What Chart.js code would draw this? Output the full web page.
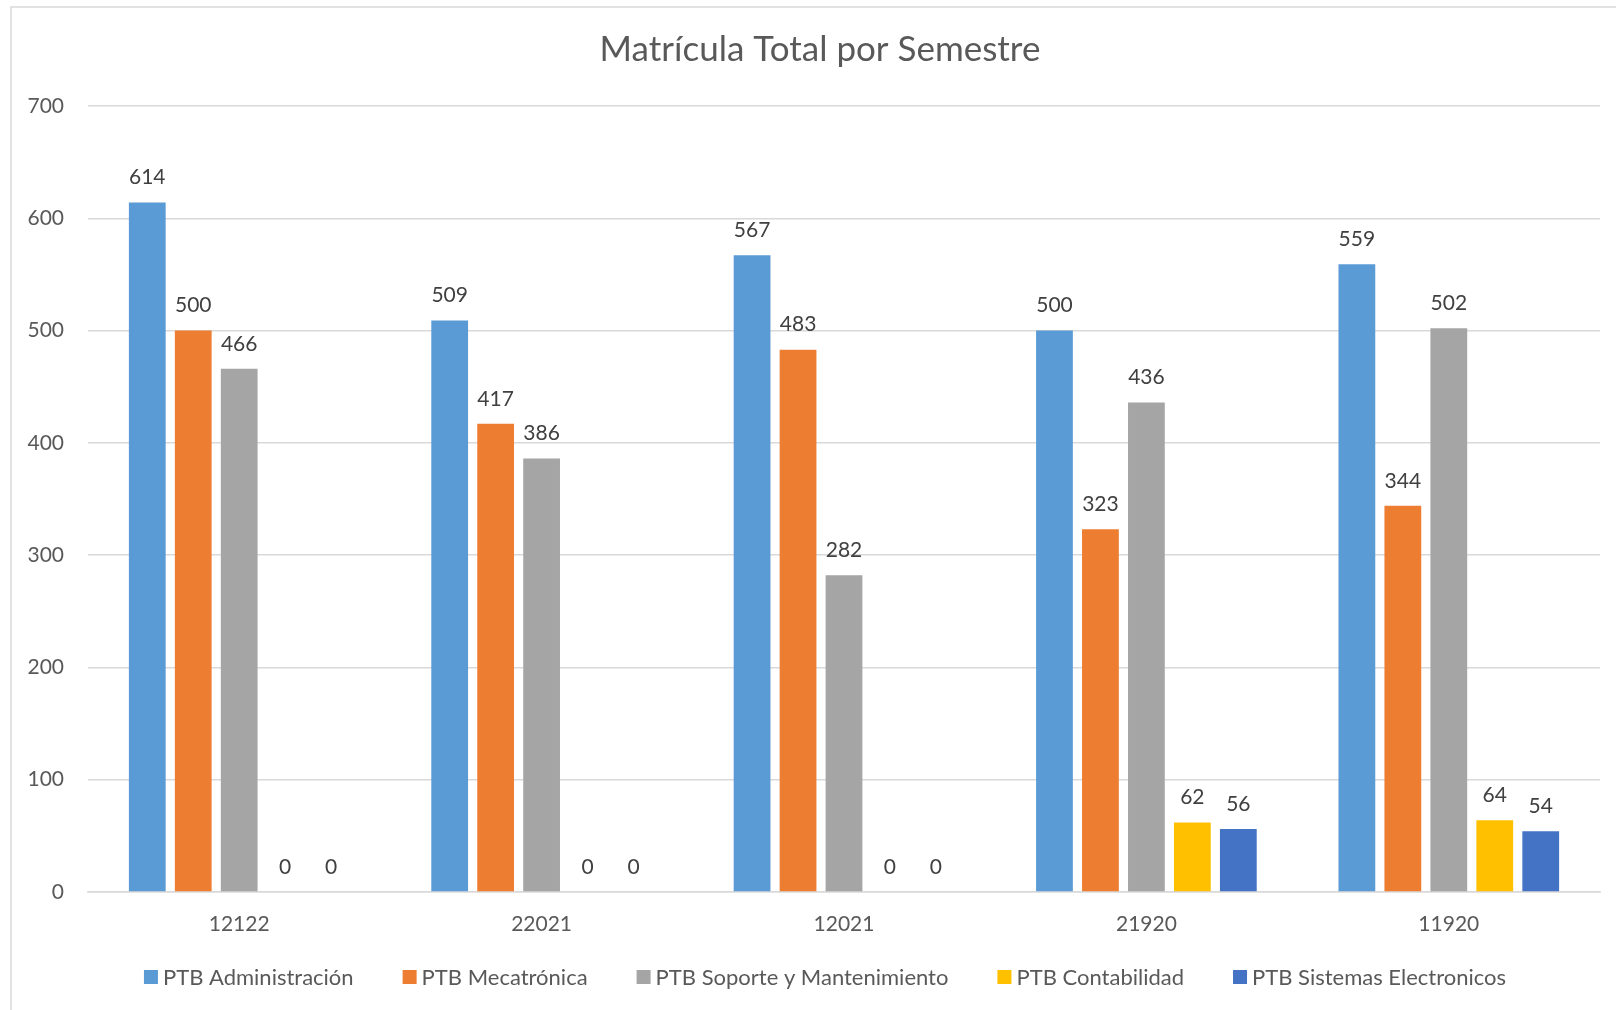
<!DOCTYPE html>
<html>
<head>
<meta charset="utf-8">
<script src="https://cdn.jsdelivr.net/npm/chart.js@4/dist/chart.umd.min.js"></script>
<style>
  html, body { margin: 0; padding: 0; background: #fff; }
  #wrap { width: 1616px; height: 1010px; position: relative; }
</style>
</head>
<body>
<div id="wrap"><canvas id="mainChart" width="1616" height="1010"></canvas></div>
<script>
const semesters = ['12122', '22021', '12021', '21920', '11920'];
const administracion = [614, 509, 567, 500, 559];
const mecatronica = [500, 417, 483, 323, 344];
const soporte = [466, 386, 282, 436, 502];
const contabilidad = [0, 0, 0, 62, 64];
const sistemas = [0, 0, 0, 56, 54];
const seriesNames = ['PTB Administración', 'PTB Mecatrónica', 'PTB Soporte y Mantenimiento', 'PTB Contabilidad', 'PTB Sistemas Electronicos'];
const seriesColors = ['#5B9BD5', '#ED7D31', '#A5A5A5', '#FFC000', '#4472C4'];
const chartTitle = 'Matrícula Total por Semestre';

const FONT = 'Lato, "Open Sans", sans-serif';

// frame, title, value labels and legend drawn by hand
const decorPlugin = {
    id: 'decor',
    beforeDraw(chart) {
        const c = chart.ctx;
        c.save();
        c.strokeStyle = '#D9D9D9';
        c.lineWidth = 1.5;
        c.beginPath();
        c.moveTo(11, 1010); c.lineTo(11, 7); c.lineTo(1616, 7);
        c.stroke();
        c.restore();
    },
    afterDatasetsDraw(chart) {
        const c = chart.ctx;
        c.save();
        c.font = '21px ' + FONT;
        c.fillStyle = '#404040';
        c.textAlign = 'center';
        c.textBaseline = 'middle';
        chart.data.datasets.forEach((ds, i) => {
            chart.getDatasetMeta(i).data.forEach((bar, j) => {
                c.fillText(String(ds.data[j]), bar.x, bar.y - 25);
            });
        });
        c.restore();
    },
    afterDraw(chart) {
        const c = chart.ctx;
        c.save();
        // title
        c.font = '35px ' + FONT;
        c.fillStyle = '#595959';
        c.textAlign = 'center';
        c.textBaseline = 'middle';
        c.fillText(chartTitle, 820, 50);
        // legend
        c.font = '22px ' + FONT;
        c.textAlign = 'left';
        const box = 14, gapText = 5, gapItem = 49;
        const widths = seriesNames.map(n => c.measureText(n).width);
        const total = widths.reduce((a, w) => a + box + gapText + w, 0) + gapItem * (seriesNames.length - 1);
        let x = 825 - total / 2;
        const y = 977;
        seriesNames.forEach((n, i) => {
            c.fillStyle = seriesColors[i];
            c.fillRect(x, y - box / 2, box, box);
            c.fillStyle = '#595959';
            c.fillText(n, x + box + gapText, y + 1);
            x += box + gapText + widths[i] + gapItem;
        });
        c.restore();
    }
};

const values = [administracion, mecatronica, soporte, contabilidad, sistemas];

new Chart(document.getElementById('mainChart').getContext('2d'), {
    type: 'bar',
    data: {
        labels: semesters,
        datasets: values.map((v, i) => ({
            label: seriesNames[i],
            data: v,
            backgroundColor: seriesColors[i],
            borderWidth: 0,
            categoryPercentage: 0.76,
            barPercentage: 0.8
        }))
    },
    options: {
        responsive: false,
        animation: false,
        layout: { padding: { top: 106, right: 16, left: 0, bottom: 0 } },
        plugins: { legend: { display: false }, title: { display: false }, tooltip: { enabled: false } },
        scales: {
            x: {
                grid: { display: false, drawTicks: false },
                border: { display: true, color: '#D9D9D9', width: 1.5 },
                ticks: { color: '#595959', font: { family: FONT, size: 21 }, padding: 20 },
                afterFit(s) { s.height = 118; }
            },
            y: {
                min: 0, max: 700,
                ticks: { stepSize: 100, color: '#595959', font: { family: FONT, size: 21 }, padding: 24 },
                grid: { color: '#D9D9D9', lineWidth: 1.5, drawTicks: false },
                border: { display: false },
                afterFit(s) { s.width = 88; }
            }
        }
    },
    plugins: [decorPlugin]
});
</script>
</body>
</html>
